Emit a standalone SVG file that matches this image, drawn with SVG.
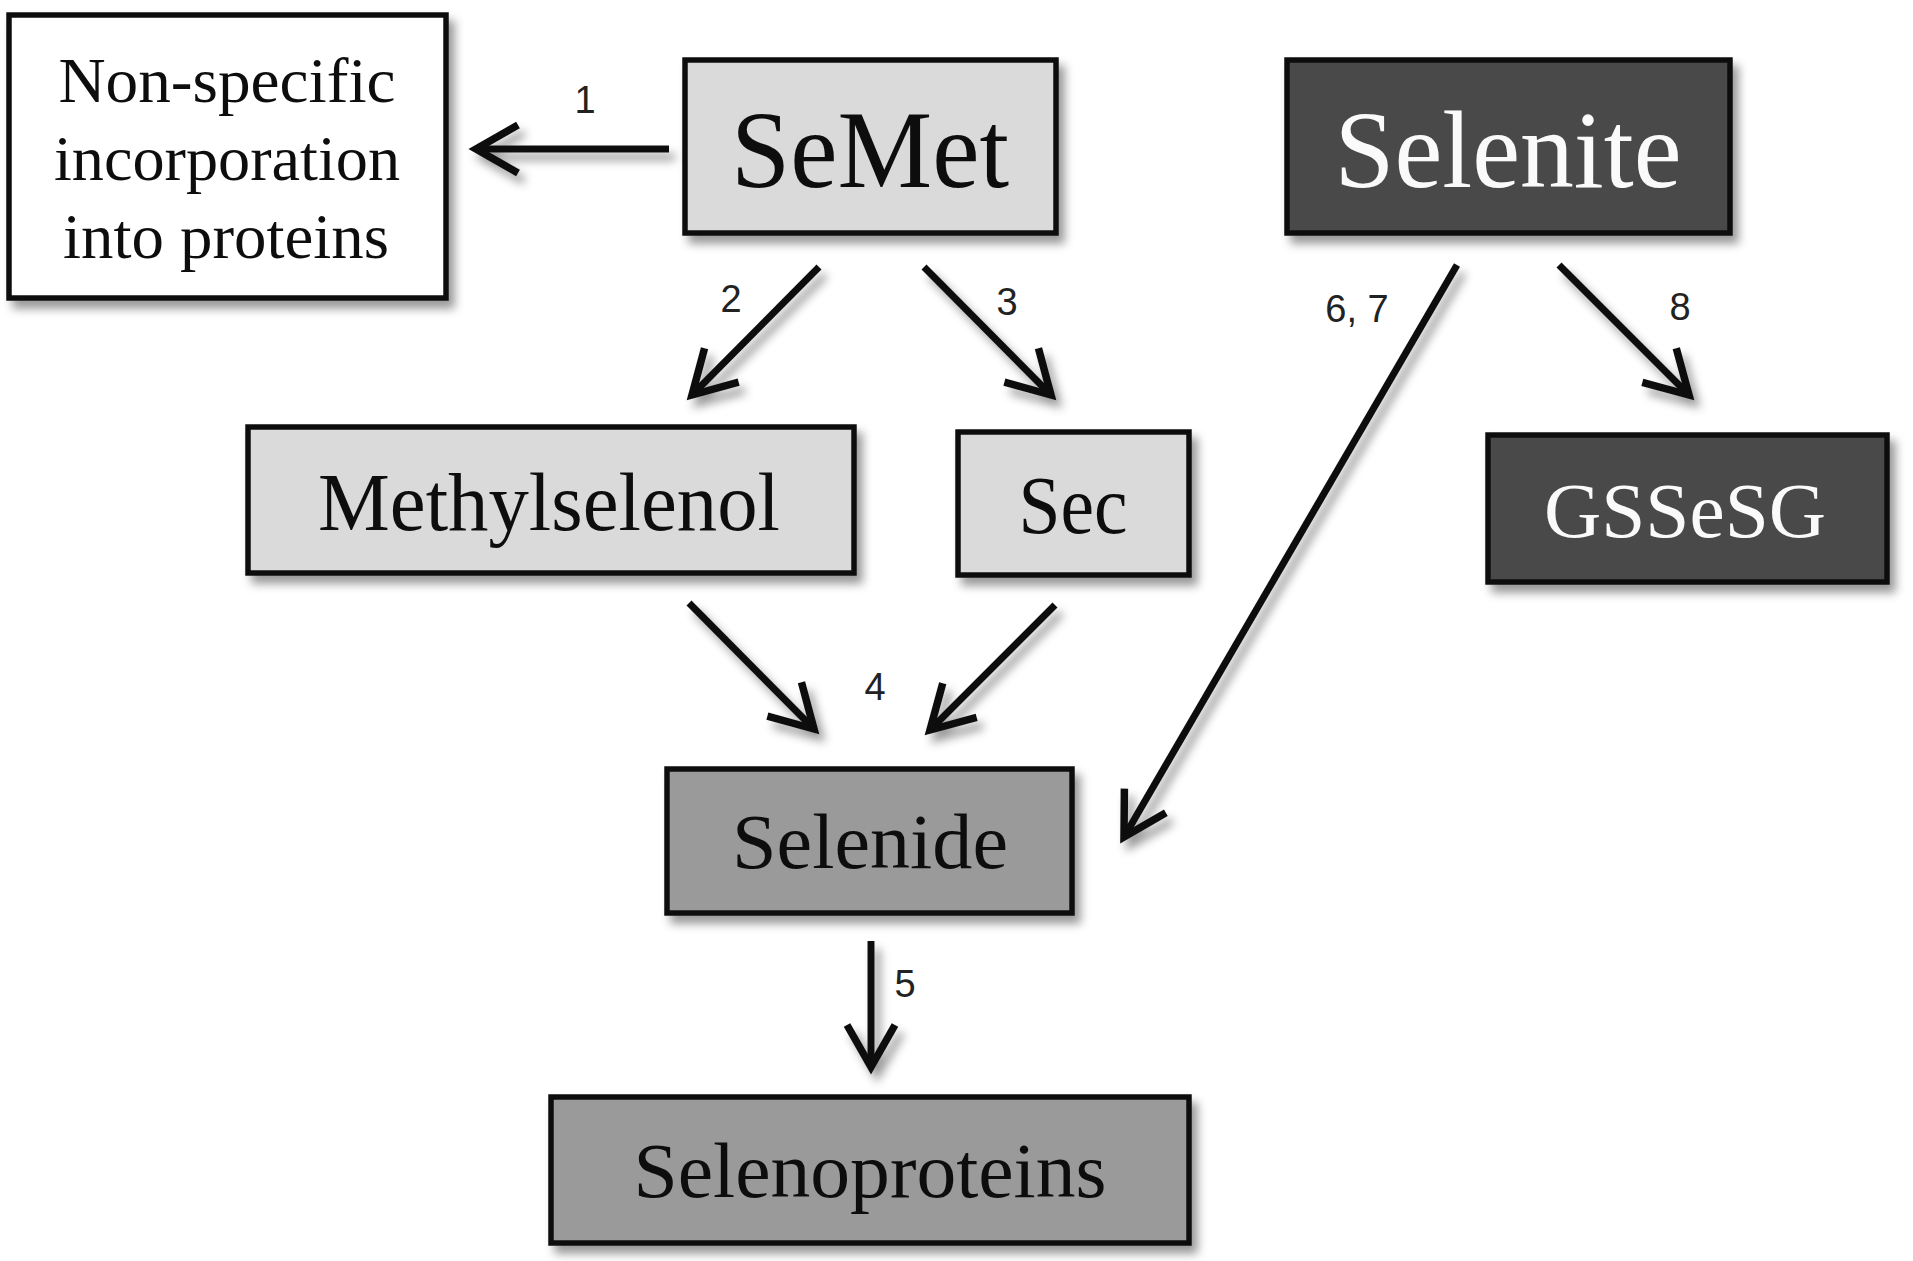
<svg xmlns="http://www.w3.org/2000/svg" width="1913" height="1261" viewBox="0 0 1913 1261">
<style>
.box{stroke:#111;stroke-width:5.5}
.white{fill:#ffffff}
.light{fill:#dadada}
.mid{fill:#9a9a9a}
.dark{fill:#4a4a4a}
.t{font-family:"Liberation Serif","Times New Roman",serif;text-anchor:middle;fill:#111}
.tw{fill:#fafafa}
.lbl{font-family:"Liberation Sans",Arial,sans-serif;font-size:38px;text-anchor:middle;fill:#222}
.arr{stroke:#111;stroke-width:7;fill:none;marker-end:url(#head)}
</style>
<defs>
<filter id="sh" x="-20%" y="-20%" width="150%" height="150%">
<feDropShadow dx="6" dy="8" stdDeviation="5" flood-color="#000" flood-opacity="0.4"/>
</filter>
<marker id="head" markerUnits="userSpaceOnUse" viewBox="-60 -40 80 80" refX="0" refY="0" markerWidth="80" markerHeight="80" orient="auto" overflow="visible">
<path d="M-42,-24 L0,0 L-42,24" fill="none" stroke="#111" stroke-width="7.5" stroke-linejoin="miter"/>
</marker>
</defs>
<rect width="1913" height="1261" fill="#ffffff"/>
<g id="connectors" filter="url(#sh)">
<line class="arr" x1="669" y1="149" x2="476" y2="149"/>
<line class="arr" x1="819" y1="267" x2="692" y2="395"/>
<line class="arr" x1="924" y1="267" x2="1051" y2="395"/>
<line class="arr" x1="1457" y1="265" x2="1124" y2="837"/>
<line class="arr" x1="1559" y1="265" x2="1689" y2="395"/>
<line class="arr" x1="689" y1="603" x2="814" y2="729"/>
<line class="arr" x1="1055" y1="605" x2="930" y2="730"/>
<line class="arr" x1="871" y1="941" x2="871" y2="1067"/>
</g>
<g id="labels">
<text class="lbl" x="585" y="113">1</text>
<text class="lbl" x="731" y="312">2</text>
<text class="lbl" x="1007" y="315">3</text>
<text class="lbl" x="1357" y="322">6, 7</text>
<text class="lbl" x="1680" y="320">8</text>
<text class="lbl" x="875" y="700">4</text>
<text class="lbl" x="905" y="997">5</text>
</g>
<g id="node-nonspecific" filter="url(#sh)">
<rect class="box white" x="9" y="15" width="437" height="283"/>
<text class="t" font-size="63" x="227" y="102" textLength="337" lengthAdjust="spacingAndGlyphs">Non-specific</text>
<text class="t" font-size="63" x="227" y="180" textLength="346" lengthAdjust="spacingAndGlyphs">incorporation</text>
<text class="t" font-size="63" x="226" y="258" textLength="326" lengthAdjust="spacingAndGlyphs">into proteins</text>
</g>
<g id="node-semet" filter="url(#sh)">
<rect class="box light" x="685" y="60" width="371" height="173"/>
<text class="t" font-size="110" x="870" y="187" textLength="278" lengthAdjust="spacingAndGlyphs">SeMet</text>
</g>
<g id="node-selenite" filter="url(#sh)">
<rect class="box dark" x="1287" y="60" width="443" height="173"/>
<text class="t tw" font-size="110" x="1508" y="187" textLength="347" lengthAdjust="spacingAndGlyphs">Selenite</text>
</g>
<g id="node-methylselenol" filter="url(#sh)">
<rect class="box light" x="248" y="427" width="606" height="146"/>
<text class="t" font-size="82" x="549" y="530" textLength="462" lengthAdjust="spacingAndGlyphs">Methylselenol</text>
</g>
<g id="node-sec" filter="url(#sh)">
<rect class="box light" x="958" y="432" width="231" height="143"/>
<text class="t" font-size="82" x="1073" y="533" textLength="109" lengthAdjust="spacingAndGlyphs">Sec</text>
</g>
<g id="node-gssesg" filter="url(#sh)">
<rect class="box dark" x="1488" y="435" width="399" height="147"/>
<text class="t tw" font-size="78" x="1685" y="537" textLength="282" lengthAdjust="spacingAndGlyphs">GSSeSG</text>
</g>
<g id="node-selenide" filter="url(#sh)">
<rect class="box mid" x="667" y="769" width="405" height="144"/>
<text class="t" font-size="78" x="870" y="868" textLength="276" lengthAdjust="spacingAndGlyphs">Selenide</text>
</g>
<g id="node-selenoproteins" filter="url(#sh)">
<rect class="box mid" x="551" y="1097" width="638" height="146"/>
<text class="t" font-size="79" x="870" y="1197" textLength="473" lengthAdjust="spacingAndGlyphs">Selenoproteins</text>
</g>
</svg>
